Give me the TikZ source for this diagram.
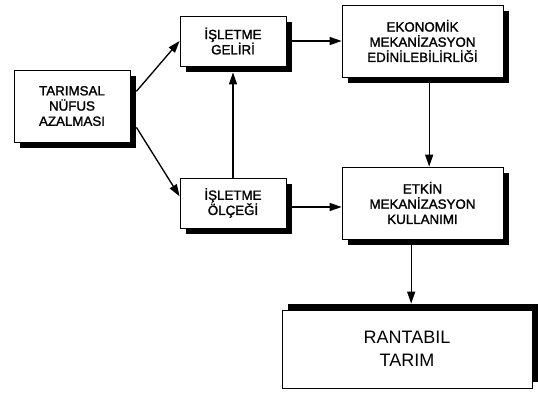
\documentclass[tikz,border=0pt]{standalone}
\usepackage{fontspec}
\setmainfont{Liberation Sans}[BoldFont=Liberation Sans, BoldFeatures={FakeBold=1.6}]
\usetikzlibrary{arrows.meta,calc,backgrounds}

\tikzset{
	box/.style={draw, line width=0.6pt, fill=white, align=center, inner sep=0pt,
		font=\fontsize{10}{11.4}\selectfont\bfseries},
	bigbox/.style={box, font=\fontsize{13.5}{17}\selectfont},
	link/.style={line width=1pt, -{Triangle[length=9pt,width=6pt]}}
}

\begin{document}
\begin{tikzpicture}[x=0.75pt,y=0.75pt,yscale=-1,xscale=1]
	\useasboundingbox (0,0) rectangle (538,392);
	
	% Boxes
	\node [box, minimum width=87pt, minimum height=54pt] (tarim) at (72,106) {TARIMSAL\\NÜFUS\\AZALMASI};
	\node [box, minimum width=79.5pt, minimum height=37.5pt] (gelir) at (233,41) {İŞLETME\\GELİRİ};
	\node [box, minimum width=120.75pt, minimum height=54pt] (ekon) at (422.5,41) {EKONOMİK\\MEKANİZASYON\\EDİNİLEBİLİRLİĞİ};
	\node [box, minimum width=79.5pt, minimum height=37.5pt] (olcek) at (233,203) {İŞLETME\\ÖLÇEĞİ};
	\node [box, minimum width=120.75pt, minimum height=54pt] (etkin) at (422.5,203) {ETKİN\\MEKANİZASYON\\KULLANIMI};
	\node [bigbox, minimum width=187.5pt, minimum height=58.5pt] (rant) at (407,349) {RANTABIL\\TARIM};
	
	% Shadows
	\begin{scope}[on background layer]
		\foreach \n in {tarim,gelir,ekon,olcek,etkin}
			\fill ($(\n.south west)+(6,6)$) rectangle ($(\n.north east)+(6,6)$);
		\fill ($(rant.south west)+(6,-6)$) rectangle ($(rant.north east)+(6,-6)$);
	\end{scope}
	
	% Arrows
	\draw [link] ([xshift=4.5pt,yshift=-11pt]tarim.east) -- (gelir.west);
	\draw [link] ([xshift=4.5pt,yshift=16pt]tarim.east) -- ([yshift=-5pt]olcek.west);
	\draw [link] ([xshift=4.5pt]gelir.east) -- (ekon.west);
	\draw [link] (olcek.north) -- ([yshift=4.5pt]gelir.south);
	\draw [link] ([xshift=5pt,yshift=4.5pt]ekon.south) -- ([xshift=5pt]etkin.north);
	\draw [link] ([xshift=4.5pt,yshift=3pt]olcek.east) -- ([yshift=3pt]etkin.west);
	\draw [link] ([xshift=-8.5pt,yshift=4.5pt]etkin.south) -- ([xshift=-8.5pt,yshift=-4.5pt]etkin.south |- rant.north);
	
\end{tikzpicture}
\end{document}
